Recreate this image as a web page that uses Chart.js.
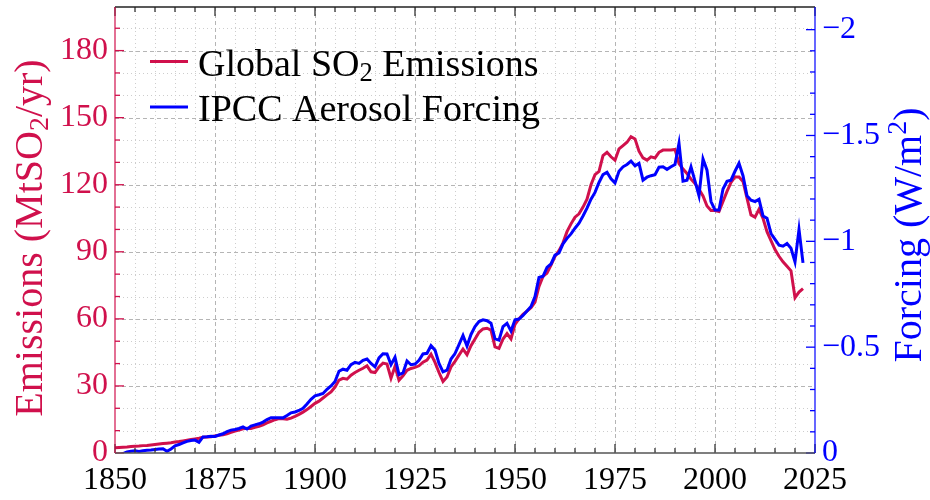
<!DOCTYPE html>
<html>
<head>
<meta charset="utf-8">
<script src="https://cdn.jsdelivr.net/npm/chart.js@4.4.1/dist/chart.umd.min.js"></script>
<style>
    body { margin: 0; background: #fff; }
    #cadre { width: 930px; height: 500px; position: relative; }
</style>
</head>
<body>
<div id="cadre"><canvas id="graphique-so2"></canvas></div>
<script>
// Annees 1850 -> 2022, une valeur par an
const premiereAnnee = 1850;
const nbAnnees = 173;
const annees = Array.from({ length: nbAnnees }, (_, i) => premiereAnnee + i);

// Emissions globales de SO2 (Mt SO2 / an)
const emissions = [
    2.4, 2.5, 2.6, 2.7, 2.9, 3.0, 3.1, 3.3, 3.4, 3.6,
    3.8, 4.0, 4.2, 4.4, 4.6, 4.9, 5.1, 5.4, 5.7, 6.0,
    6.3, 6.6, 7.0, 7.2, 7.3, 7.6, 7.9, 8.2, 8.6, 9.2,
    9.8, 10.3, 10.8, 11.1, 11.0, 11.5, 11.9, 12.6, 13.5, 14.2,
    14.9, 15.4, 15.3, 15.1, 15.6, 16.4, 17.3, 18.3, 19.4, 20.8,
    22.2, 23.2, 24.6, 26.0, 27.3, 29.5, 32.6, 33.4, 33.0, 34.8,
    36.0, 37.0, 37.9, 39.0, 36.3, 36.0, 38.5, 40.2, 39.8, 33.5,
    38.8, 32.5, 34.5, 37.0, 37.8, 38.3, 39.0, 40.6, 41.6, 44.2,
    40.5, 36.0, 32.0, 34.0, 38.5, 41.0, 43.8, 46.5, 44.0, 48.0,
    51.0, 54.0, 55.5, 55.8, 55.0, 47.5, 46.8, 51.0, 53.4, 51.0,
    57.5, 60.0, 62.0, 63.5, 65.0, 67.5, 74.5, 79.0, 80.5, 84.0,
    88.0, 90.5, 94.0, 99.0, 102.5, 105.5, 107.0, 110.0, 113.5, 120.0,
    124.5, 126.0, 133.0, 134.5, 132.5, 131.0, 136.0, 137.5, 139.0, 141.5,
    140.5, 135.0, 132.0, 131.0, 132.5, 132.0, 134.5, 135.5, 135.5, 135.5,
    135.8, 129.5, 127.0, 125.0, 122.5, 120.5, 118.0, 115.0, 110.5, 108.5,
    108.5, 108.0, 112.5, 117.0, 121.0, 123.5, 123.5, 121.5, 114.0, 106.5,
    105.5, 109.0, 105.0, 99.0, 95.0, 91.0, 88.0, 85.5, 83.5, 81.5,
    69.5, 72.0, 73.5
];

// Forcage des aerosols IPCC (W/m2)
const forcage = [
    0.016, 0.011, 0.003, -0.005, -0.008, -0.010, -0.007, -0.011, -0.013, -0.014,
    -0.017, -0.019, -0.020, -0.008, -0.019, -0.034, -0.040, -0.048, -0.055, -0.059,
    -0.061, -0.051, -0.076, -0.077, -0.079, -0.078, -0.085, -0.091, -0.101, -0.108,
    -0.111, -0.116, -0.123, -0.113, -0.127, -0.133, -0.138, -0.146, -0.158, -0.167,
    -0.166, -0.167, -0.166, -0.177, -0.190, -0.194, -0.201, -0.211, -0.232, -0.254,
    -0.270, -0.275, -0.281, -0.301, -0.317, -0.338, -0.386, -0.396, -0.391, -0.417,
    -0.428, -0.423, -0.438, -0.444, -0.423, -0.407, -0.449, -0.469, -0.468, -0.417,
    -0.452, -0.370, -0.378, -0.435, -0.417, -0.420, -0.438, -0.468, -0.471, -0.507,
    -0.486, -0.423, -0.383, -0.391, -0.444, -0.470, -0.512, -0.555, -0.505, -0.560,
    -0.597, -0.621, -0.629, -0.625, -0.613, -0.539, -0.533, -0.597, -0.613, -0.576,
    -0.629, -0.633, -0.650, -0.671, -0.692, -0.739, -0.829, -0.835, -0.877, -0.893,
    -0.935, -0.945, -0.988, -1.014, -1.035, -1.062, -1.086, -1.120, -1.157, -1.199,
    -1.231, -1.278, -1.315, -1.326, -1.295, -1.276, -1.331, -1.352, -1.363, -1.379,
    -1.357, -1.368, -1.289, -1.303, -1.310, -1.315, -1.350, -1.352, -1.340, -1.352,
    -1.363, -1.463, -1.284, -1.289, -1.352, -1.284, -1.215, -1.389, -1.336, -1.188,
    -1.148, -1.148, -1.247, -1.284, -1.289, -1.331, -1.369, -1.310, -1.215, -1.194,
    -1.188, -1.199, -1.120, -1.109, -1.037, -1.009, -0.982, -0.977, -0.990, -0.967,
    -0.903, -1.056, -0.898
];

// Graduations
const ticksAnnees = [1850, 1875, 1900, 1925, 1950, 1975, 2000, 2025];
const ticksEmissions = [0, 30, 60, 90, 120, 150, 180];
const ticksForcage = [0, -0.5, -1, -1.5, -2];

const CRAMOISI = "#d0104c";
const BLEU = "#0000ff";
const POLICE = "'Liberation Serif', 'DejaVu Serif', serif";

// Ecrit un texte compose de morceaux normaux / indices / exposants, centre sur x
function texteCompose(ctx, morceaux, x, y, taille) {
    const largeurs = morceaux.map(m => {
        ctx.font = (m.mode ? taille * 0.7 : taille) + "px " + POLICE;
        return ctx.measureText(m.t).width;
    });
    let pos = x - largeurs.reduce((a, b) => a + b, 0) / 2;
    ctx.textAlign = "left";
    ctx.textBaseline = "alphabetic";
    morceaux.forEach((m, i) => {
        ctx.font = (m.mode ? taille * 0.7 : taille) + "px " + POLICE;
        let dy = 0;
        if (m.mode === "sub") dy = taille * 0.15;
        if (m.mode === "sup") dy = -taille * 0.38;
        ctx.fillText(m.t, pos, y + dy);
        pos += largeurs[i];
    });
}

function trait(ctx, x1, y1, x2, y2) {
    ctx.beginPath();
    ctx.moveTo(x1, y1);
    ctx.lineTo(x2, y2);
    ctx.stroke();
}

const decor = {
    id: "decor",
    beforeDatasetsDraw(chart) {
        const { ctx, chartArea: a, scales } = chart;
        const sx = scales.x, sy = scales.y;
        ctx.save();
        ctx.lineWidth = 1;
        // grille secondaire en pointilles
        ctx.strokeStyle = "#cdcdcd";
        ctx.setLineDash([1, 3]);
        for (let an = 1855; an < 2025; an += 5) {
            if (an % 25 === 0) continue;
            const px = Math.round(sx.getPixelForValue(an)) + 0.5;
            trait(ctx, px, a.top, px, a.bottom);
        }
        for (let v = 10; v < 200; v += 10) {
            if (v % 30 === 0) continue;
            const py = Math.round(sy.getPixelForValue(v)) + 0.5;
            trait(ctx, a.left, py, a.right, py);
        }
        // grille principale en tirets
        ctx.strokeStyle = "#b5b5b5";
        ctx.setLineDash([4, 3]);
        ticksAnnees.slice(1, -1).forEach(an => {
            const px = Math.round(sx.getPixelForValue(an)) + 0.5;
            trait(ctx, px, a.top, px, a.bottom);
        });
        ticksEmissions.slice(1).forEach(v => {
            const py = Math.round(sy.getPixelForValue(v)) + 0.5;
            trait(ctx, a.left, py, a.right, py);
        });
        ctx.restore();
    },
    afterDatasetsDraw(chart) {
        const { ctx, chartArea: a, scales } = chart;
        const sx = scales.x, sy = scales.y, sf = scales.y1;
        ctx.save();
        ctx.setLineDash([]);
        // graduations vers l'interieur
        ctx.lineWidth = 1.3;
        ctx.strokeStyle = "#333";
        for (let an = 1850; an <= 2025; an += 5) {
            const px = sx.getPixelForValue(an);
            const l = an % 25 === 0 ? 9 : 5;
            trait(ctx, px, a.bottom, px, a.bottom - l);
            trait(ctx, px, a.top, px, a.top + l);
        }
        ctx.strokeStyle = CRAMOISI;
        for (let v = 0; v < 200; v += 10) {
            const py = sy.getPixelForValue(v);
            trait(ctx, a.left, py, a.left + (v % 30 === 0 ? 9 : 5), py);
        }
        ctx.strokeStyle = BLEU;
        for (let k = 0; k <= 20; k++) {
            const py = sf.getPixelForValue(-k / 10);
            trait(ctx, a.right, py, a.right - (k % 5 === 0 ? 9 : 5), py);
        }
        // cadre
        ctx.lineWidth = 1.5;
        ctx.strokeStyle = "#222";
        trait(ctx, a.left, a.top, a.right, a.top);
        ctx.strokeStyle = "#555";
        trait(ctx, a.left, a.bottom, a.right, a.bottom);
        ctx.lineWidth = 1.2;
        ctx.strokeStyle = CRAMOISI;
        trait(ctx, a.left, a.top, a.left, a.bottom);
        ctx.strokeStyle = BLEU;
        trait(ctx, a.right, a.top, a.right, a.bottom);
        ctx.restore();
    },
    afterDraw(chart) {
        const ctx = chart.ctx;
        ctx.save();
        // titres des axes
        ctx.fillStyle = CRAMOISI;
        ctx.translate(42, 238);
        ctx.rotate(-Math.PI / 2);
        texteCompose(ctx, [{ t: "Emissions (MtSO" }, { t: "2", mode: "sub" }, { t: "/yr)" }], 0, 0, 40);
        ctx.restore();
        ctx.save();
        ctx.fillStyle = BLEU;
        ctx.translate(921, 235);
        ctx.rotate(-Math.PI / 2);
        texteCompose(ctx, [{ t: "Forcing (W/m" }, { t: "2", mode: "sup" }, { t: ")" }], 0, 0, 40);
        ctx.restore();
        // legende
        ctx.save();
        const lignes = [
            { couleur: CRAMOISI, y: 61.5, morceaux: [{ t: "Global SO" }, { t: "2", mode: "sub" }, { t: " Emissions" }] },
            { couleur: BLEU, y: 107, morceaux: [{ t: "IPCC Aerosol Forcing" }] }
        ];
        lignes.forEach(l => {
            ctx.strokeStyle = l.couleur;
            ctx.lineWidth = 3;
            trait(ctx, 150, l.y, 188, l.y);
            ctx.fillStyle = "#000";
            let largeur = 0;
            l.morceaux.forEach(m => {
                ctx.font = (m.mode ? 38 * 0.7 : 38) + "px " + POLICE;
                largeur += ctx.measureText(m.t).width;
            });
            texteCompose(ctx, l.morceaux, 198 + largeur / 2, l.y + 14, 38);
        });
        ctx.restore();
    }
};

const policeTicks = { family: POLICE, size: 32 };

// Sans marge automatique pour les etiquettes aux extremites
function sansMarge(s) {
    s.paddingTop = 0;
    s.paddingBottom = 0;
    s.paddingLeft = 0;
    s.paddingRight = 0;
}

const config = {
    type: "line",
    data: {
        datasets: [
            {
                label: "IPCC Aerosol Forcing",
                data: annees.map((an, i) => ({ x: an, y: forcage[i] })),
                yAxisID: "y1",
                borderColor: BLEU,
                borderWidth: 3,
                pointRadius: 0,
                tension: 0,
                clip: 0,
                order: 0
            },
            {
                label: "Global SO2 Emissions",
                data: annees.map((an, i) => ({ x: an, y: emissions[i] })),
                yAxisID: "y",
                borderColor: CRAMOISI,
                borderWidth: 3,
                pointRadius: 0,
                tension: 0,
                clip: 0,
                order: 1
            }
        ]
    },
    options: {
        responsive: true,
        maintainAspectRatio: false,
        animation: false,
        layout: { padding: { top: 7, left: 0, right: 0, bottom: 0 } },
        plugins: { legend: { display: false }, tooltip: { enabled: false } },
        scales: {
            x: {
                type: "linear",
                min: 1850,
                max: 2025,
                afterBuildTicks: s => { s.ticks = ticksAnnees.map(v => ({ value: v })); },
                ticks: { color: "#000", font: policeTicks, padding: 8, maxRotation: 0, autoSkip: false, callback: v => String(v) },
                grid: { display: false, drawTicks: false },
                border: { display: false },
                afterFit: s => { sansMarge(s); s.height = 47; }
            },
            y: {
                position: "left",
                min: 0,
                max: 199.5,
                afterBuildTicks: s => { s.ticks = ticksEmissions.map(v => ({ value: v })); },
                ticks: { color: CRAMOISI, font: policeTicks, padding: 7 },
                grid: { display: false, drawTicks: false },
                border: { display: false },
                afterFit: s => { sansMarge(s); s.width = 115; }
            },
            y1: {
                position: "right",
                min: -2.107,
                max: 0,
                reverse: true,
                afterBuildTicks: s => { s.ticks = ticksForcage.map(v => ({ value: v })); },
                ticks: {
                    color: BLEU, font: policeTicks, padding: 7,
                    callback: v => v === 0 ? "0" : "\u2212" + Math.abs(v)
                },
                grid: { display: false, drawTicks: false },
                border: { display: false },
                afterFit: s => { sansMarge(s); s.width = 115; }
            }
        }
    },
    plugins: [decor]
};

const graphique = new Chart(document.querySelector("#graphique-so2"), config);
</script>
</body>
</html>
